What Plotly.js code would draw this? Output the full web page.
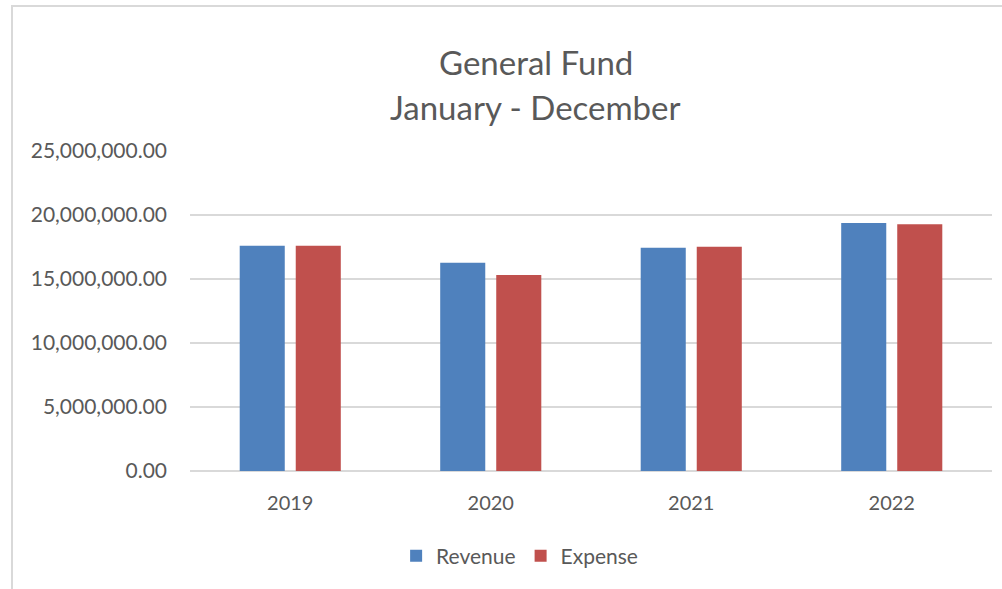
<!DOCTYPE html>
<html><head><meta charset="utf-8">
<script src="https://cdn.plot.ly/plotly-3.0.1.min.js"></script>
<style>
html,body{margin:0;padding:0;background:#fff;overflow:hidden;}
#frame{position:absolute;left:11px;top:5px;width:1100px;height:700px;border:2px solid #d9d9d9;box-sizing:border-box;}
#chart{position:absolute;left:0;top:0;width:1002px;height:589px;}
</style></head>
<body>
<div id="frame"></div>
<div id="chart"></div>
<script>
const years = ['2019','2020','2021','2022'];
const revenue = [17600000, 16270000, 17450000, 19380000];
const expense = [17600000, 15310000, 17520000, 19270000];
const tickVals = [0, 5000000, 10000000, 15000000, 20000000, 25000000];
const titleLines = ['General Fund', 'January - December'];

const font = "Lato, 'Open Sans', sans-serif";
const data = [
  {type:'bar', name:'Revenue', x:years, y:revenue, marker:{color:'#4F81BD'}},
  {type:'bar', name:'Expense', x:years, y:expense, marker:{color:'#C0504D'}}
];
const layout = {
  width:1002, height:589,
  paper_bgcolor:'rgba(0,0,0,0)', plot_bgcolor:'rgba(0,0,0,0)',
  margin:{l:190, r:10, t:151, b:118},
  barmode:'group', bargap:0.441, bargroupgap:0.196,
  annotations:[
    {text:titleLines[0], xref:'paper', yref:'paper', x:0.4314, y:(471-62)/320, xanchor:'center', yanchor:'middle', showarrow:false,
     font:{family:font, size:33, color:'#595959'}},
    {text:titleLines[1], xref:'paper', yref:'paper', x:0.4314, y:(471-107)/320, xanchor:'center', yanchor:'middle', showarrow:false,
     font:{family:font, size:33, color:'#595959'}}
  ],
  xaxis:{tickfont:{family:font, size:20, color:'#595959'}, showline:false, ticks:'', ticklabelstandoff:18, fixedrange:true},
  yaxis:{range:[0,25000000], tickvals:tickVals, tickformat:',.2f', tickfont:{family:font, size:21, color:'#595959'},
         gridcolor:'#d9d9d9', gridwidth:1.5, zeroline:true, zerolinecolor:'#d9d9d9', zerolinewidth:1.5,
         showline:false, ticks:'', ticklabelstandoff:22, fixedrange:true},
  legend:{orientation:'h', x:0.411, xanchor:'center', y:-0.266, yanchor:'middle',
          font:{family:font, size:21, color:'#595959'}, itemwidth:30, traceorder:'normal'},
  showlegend:true
};
Plotly.newPlot('chart', data, layout, {displayModeBar:false, staticPlot:true});
</script>
</body></html>
